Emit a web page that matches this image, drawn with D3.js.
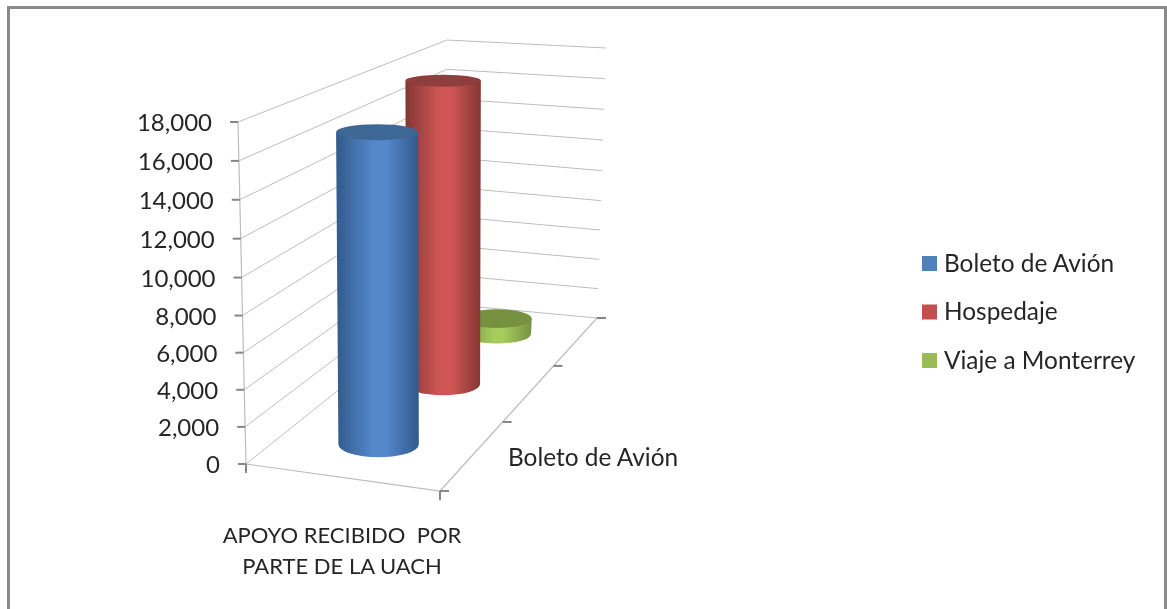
<!DOCTYPE html>
<html>
<head>
<meta charset="utf-8">
<style>
  html, body { margin: 0; padding: 0; background: #fff; }
  svg { display: block; }
  text { font-family: Lato, "Open Sans", sans-serif; fill: #262626; }
</style>
<script src="https://cdn.jsdelivr.net/npm/d3@7"></script>
</head>
<body>
<svg width="1167" height="609"></svg>
<script>
const seriesNames = ["Boleto de Avión", "Hospedaje", "Viaje a Monterrey"];
const seriesValues = [16850, 18000, 1000];
const valueTicks = [0, 2000, 4000, 6000, 8000, 10000, 12000, 14000, 16000, 18000];
const categoryLines = ["APOYO RECIBIDO  POR", "PARTE DE LA UACH"];
const depthLabel = "Boleto de Avión";
const sideColors = [["#315a8a", "#5588cb"], ["#843634", "#cf5755"], ["#76913f", "#a6cb5e"]];
const topColors = ["#3e6795", "#8f3e3c", "#76913f"];
const legendColors = ["#4f81bd", "#c0504d", "#9bbb59"];

document.addEventListener("DOMContentLoaded", function(){
    let svg = d3.select("svg");
    let defs = svg.append("defs");
    defs.append("filter").attr("id", "soft")
        .append("feGaussianBlur").attr("stdDeviation", 0.45);

    // frame has no bottom edge in the picture
    svg.append("path")
        .attr("d", "M8.5,609V7.5H1165.5V609")
        .style("fill", "none")
        .style("stroke", "#8a8a8a")
        .style("stroke-width", 3);

    let g = svg.append("g").attr("filter", "url(#soft)");

    let yFront = d3.scaleLinear().domain([0, 9000, 18000]).range([464, 297, 122]);
    let xFront = d3.scaleLinear().domain([0, 18000]).range([246, 238]);
    let yBack = d3.scaleLinear().domain([0, 18000]).range([304, 40]);
    let xBack = d3.scaleLinear().domain([0, 18000]).range([446, 447]);
    let yRight = d3.scaleLinear().domain([0, 9000, 18000]).range([318, 186, 48]);
    let xRight = d3.scaleLinear().domain([0, 18000]).range([597, 606]);

    // depth is foreshortened, so position along the floor is not linear
    let depth = d3.scaleLinear().domain([0, 1/3, 2/3, 1]).range([0, 0.399, 0.723, 1]);
    let floorFrontX = d3.scaleLinear().domain([0, 1]).range([246, 440]);
    let floorFrontY = d3.scaleLinear().domain([0, 1]).range([464, 491]);
    let floorBackX = d3.scaleLinear().domain([0, 1]).range([446, 597]);
    let floorBackY = d3.scaleLinear().domain([0, 1]).range([304, 318]);
    let fullHeight = d3.scaleLinear().domain([0, 1]).range([350, 267]);
    let radiusX = d3.scaleLinear().domain([0, 1]).range([42, 33]);
    let radiusY = d3.scaleLinear().domain([81, 132, 334, 443]).range([6, 8, 9.5, 13]);
    let lean = d3.scaleLinear().domain([0, 0.56, 1]).range([-2.5, 0, 0]);

    let gridColor = "#bdbdbd";
    let tickColor = "#868686";

    g.selectAll("line.left")
        .data(valueTicks)
        .enter().append("line")
        .attr("class", "left")
        .attr("x1", d => xFront(d)).attr("y1", d => yFront(d))
        .attr("x2", d => xBack(d)).attr("y2", d => yBack(d))
        .style("stroke", gridColor).style("stroke-width", 1);

    g.selectAll("line.right")
        .data(valueTicks)
        .enter().append("line")
        .attr("class", "right")
        .attr("x1", d => xBack(d)).attr("y1", d => yBack(d))
        .attr("x2", d => xRight(d)).attr("y2", d => yRight(d))
        .style("stroke", gridColor).style("stroke-width", 1);

    // value axis
    g.append("line")
        .attr("x1", xFront(0)).attr("y1", yFront(0))
        .attr("x2", xFront(18000)).attr("y2", yFront(18000))
        .style("stroke", gridColor).style("stroke-width", 1.2);

    g.selectAll("line.vtick")
        .data(valueTicks)
        .enter().append("line")
        .attr("class", "vtick")
        .attr("x1", d => xFront(d) - 8).attr("y1", d => yFront(d))
        .attr("x2", d => xFront(d)).attr("y2", d => yFront(d))
        .style("stroke", tickColor).style("stroke-width", 2);

    g.selectAll("text.vlabel")
        .data(valueTicks)
        .enter().append("text")
        .attr("class", "vlabel")
        .attr("x", d => xFront(d) - 26)
        .attr("y", d => yFront(d) + 1)
        .attr("dy", "0.35em")
        .attr("text-anchor", "end")
        .style("font-size", "24px")
        .text(d3.format(","));

    // floor edges
    g.append("path")
        .attr("d", d3.line()([
            [floorBackX(1), floorBackY(1)],
            [floorFrontX(1), floorFrontY(1)],
            [floorFrontX(0), floorFrontY(0)]
        ]))
        .style("fill", "none").style("stroke", gridColor).style("stroke-width", 1.2);

    // category ticks on the front edge
    g.selectAll("line.ctick")
        .data([0, 1])
        .enter().append("line")
        .attr("class", "ctick")
        .attr("x1", d => floorFrontX(d)).attr("y1", d => floorFrontY(d))
        .attr("x2", d => floorFrontX(d)).attr("y2", d => floorFrontY(d) + 9)
        .style("stroke", tickColor).style("stroke-width", 2);

    // series ticks on the depth edge
    let edgeX = d3.scaleLinear().domain([0, 1]).range([440, 597]);
    let edgeY = d3.scaleLinear().domain([0, 1]).range([491, 318]);
    g.selectAll("line.dtick")
        .data([0, 1/3, 2/3, 1])
        .enter().append("line")
        .attr("class", "dtick")
        .attr("x1", d => edgeX(depth(d))).attr("y1", d => edgeY(depth(d)))
        .attr("x2", d => edgeX(depth(d)) + 9).attr("y2", d => edgeY(depth(d)))
        .style("stroke", tickColor).style("stroke-width", 2);

    let cylinders = seriesValues.map(function(v, i){
        let t = depth((i + 0.5) / seriesValues.length);
        let cx = floorFrontX(0.5) + (floorBackX(0.5) - floorFrontX(0.5)) * t;
        let cy = floorFrontY(0.5) + (floorBackY(0.5) - floorFrontY(0.5)) * t;
        let topY = cy - fullHeight(t) * v / 18000;
        return {
            i: i, cx: cx, cy: cy, topY: topY,
            topX: cx + lean(t) * v / 18000,
            rx: radiusX(t),
            ryBottom: radiusY(cy),
            ryTop: radiusY(topY)
        };
    });

    cylinders.forEach(function(d){
        let grad = defs.append("linearGradient").attr("id", "side" + d.i);
        [[0, 0], [0.45, 1], [0.6, 1], [1, 0]].forEach(function(s){
            grad.append("stop")
                .attr("offset", s[0])
                .attr("stop-color", sideColors[d.i][s[1]]);
        });
    });

    // far cylinder first so the nearer ones cover it
    let bars = g.selectAll("g.cyl")
        .data(cylinders.slice().reverse())
        .enter().append("g")
        .attr("class", "cyl");

    bars.append("path")
        .attr("d", function(d){
            let rt = d.rx * 1.02;
            return "M" + (d.topX - rt) + "," + d.topY +
                "L" + (d.cx - d.rx) + "," + d.cy +
                "A" + d.rx + "," + d.ryBottom + " 0 0 0 " + (d.cx + d.rx) + "," + d.cy +
                "L" + (d.topX + rt) + "," + d.topY + "Z";
        })
        .style("fill", d => "url(#side" + d.i + ")");

    bars.append("ellipse")
        .attr("cx", d => d.topX)
        .attr("cy", d => d.topY)
        .attr("rx", d => d.rx * 1.02)
        .attr("ry", d => d.ryTop)
        .style("fill", d => topColors[d.i]);

    g.selectAll("text.cat")
        .data(categoryLines)
        .enter().append("text")
        .attr("class", "cat")
        .attr("x", 342)
        .attr("y", (d, i) => 535 + i * 31)
        .attr("dy", "0.35em")
        .attr("text-anchor", "middle")
        .style("font-size", "22px")
        .style("white-space", "pre")
        .text(d => d);

    g.append("text")
        .attr("x", 508)
        .attr("y", 457)
        .attr("dy", "0.35em")
        .style("font-size", "24.4px")
        .text(depthLabel);

    // legend
    let legendY = d3.scalePoint().domain(seriesNames).range([263, 360]);
    let legend = g.selectAll("g.legend")
        .data(seriesNames)
        .enter().append("g")
        .attr("class", "legend")
        .attr("transform", d => "translate(922," + legendY(d) + ")");

    legend.append("rect")
        .attr("y", -7)
        .attr("width", 15)
        .attr("height", 15)
        .style("fill", (d, i) => legendColors[i]);

    legend.append("text")
        .attr("x", 22)
        .attr("dy", "0.35em")
        .style("font-size", "24.4px")
        .text(d => d);
});
</script>
</body>
</html>
